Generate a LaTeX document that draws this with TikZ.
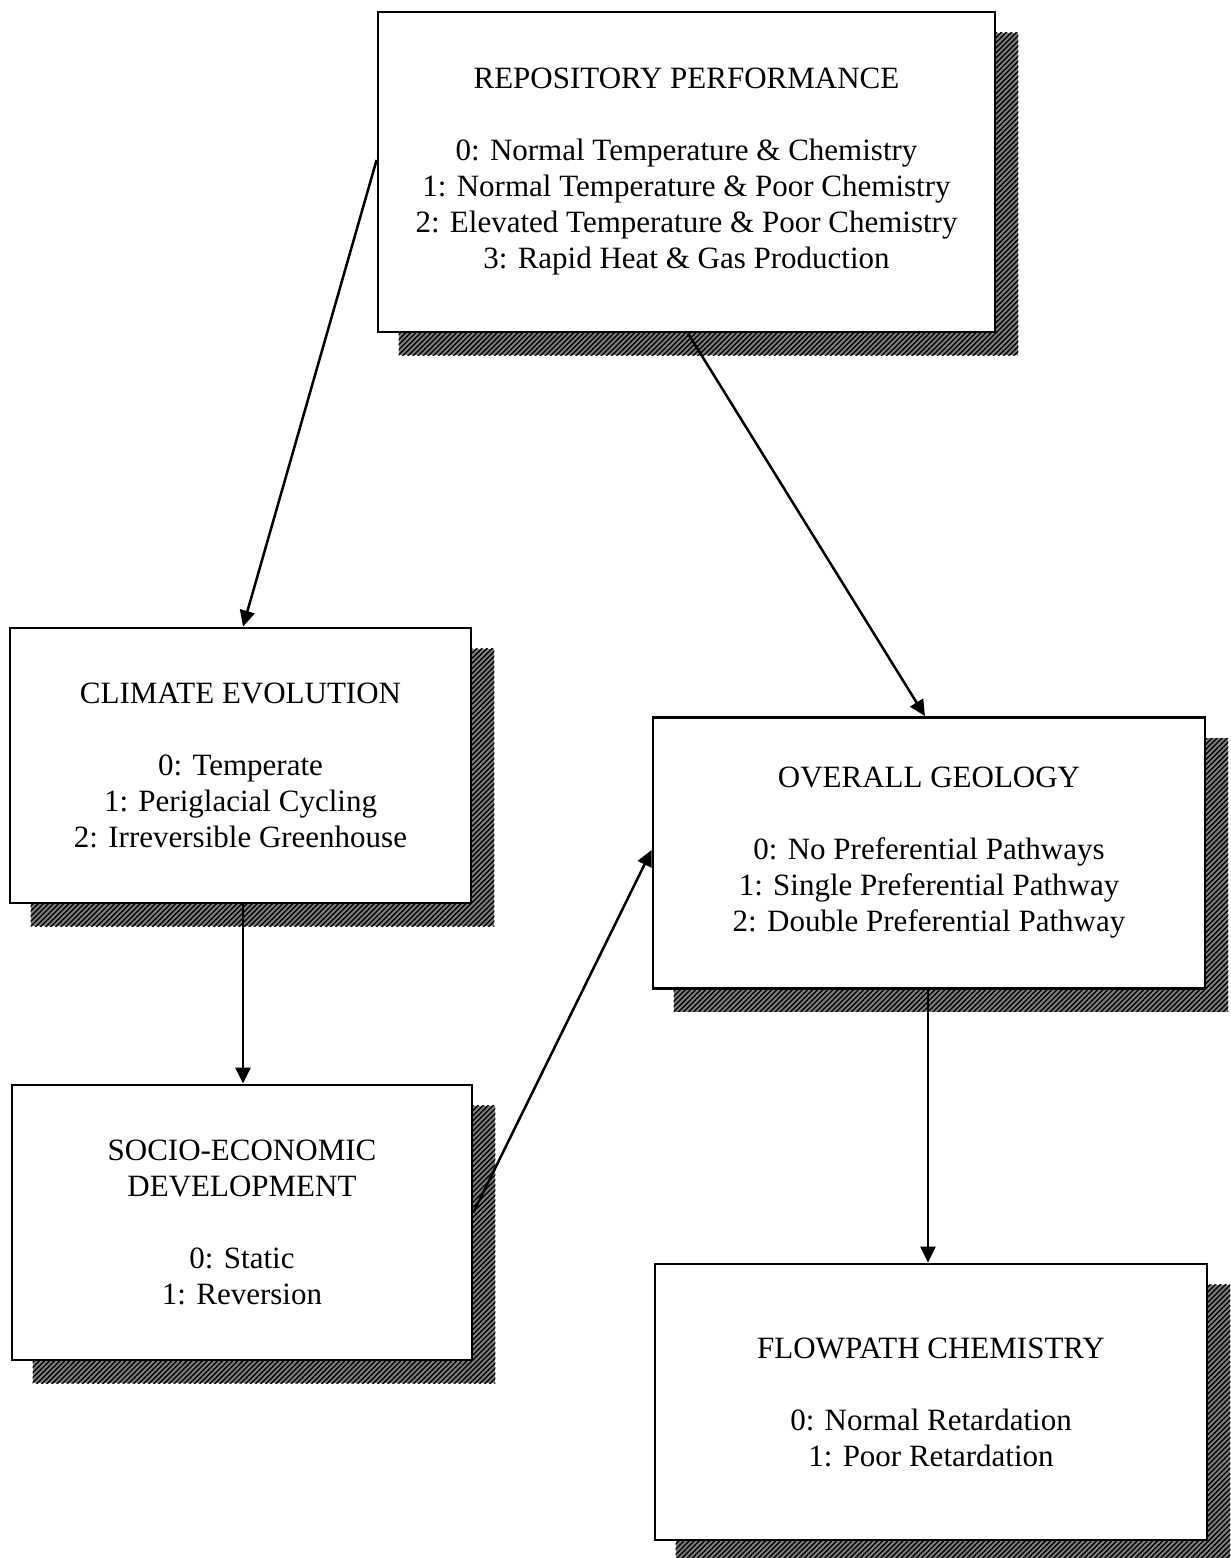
\documentclass[tikz,border=0pt]{standalone}
\usepackage{fontspec}
\setmainfont{Liberation Serif}
\usetikzlibrary{arrows.meta,patterns.meta,backgrounds}
\tikzset{
  box/.style={draw=black, line width=2.8pt, fill=white, inner sep=0pt, align=center,
    font=\fontsize{31}{36}\selectfont},
  shade/.style={fill=black!50},
  hatch/.style={pattern={Lines[angle=45,distance=3.6pt,line width=1.4pt]}, pattern color=black},
  conn/.style={line width=2.5pt, -{Triangle[length=16pt,width=15pt]}},
}
\begin{document}
\begin{tikzpicture}[x=1pt,y=-1pt]
\useasboundingbox (0,0) rectangle (1231,1558);

\node[box, minimum width=617pt, minimum height=320pt] (repo) at (686.5,172)
  {REPOSITORY PERFORMANCE\\[36pt]
   0: Normal Temperature \& Chemistry\\
   1: Normal Temperature \& Poor Chemistry\\
   2: Elevated Temperature \& Poor Chemistry\\
   3: Rapid Heat \& Gas Production};

\node[box, minimum width=461pt, minimum height=275pt] (clim) at (240.5,765.5)
  {CLIMATE EVOLUTION\\[36pt]
   0: Temperate\\
   1: Periglacial Cycling\\
   2: Irreversible Greenhouse};

\node[box, minimum width=552pt, minimum height=271pt] (geo) at (929,853)
  {OVERALL GEOLOGY\\[36pt]
   0: No Preferential Pathways\\
   1: Single Preferential Pathway\\
   2: Double Preferential Pathway};

\node[box, minimum width=460pt, minimum height=275pt] (socio) at (242,1222.5)
  {SOCIO-ECONOMIC\\
   DEVELOPMENT\\[36pt]
   0: Static\\
   1: Reversion};

\node[box, minimum width=552pt, minimum height=276pt] (flow) at (931,1402)
  {FLOWPATH CHEMISTRY\\[36pt]
   0: Normal Retardation\\
   1: Poor Retardation};

\begin{scope}[on background layer]
\foreach \n in {repo,clim,geo,socio,flow}{
  \fill[shade] ([shift={(22,22)}]\n.south west) rectangle ([shift={(22,22)}]\n.north east);
  \fill[hatch] ([shift={(22,22)}]\n.south west) rectangle ([shift={(22,22)}]\n.north east);
}
\end{scope}

\draw[conn] ([yshift=12pt]repo.west) -- ([xshift=2.5pt]clim.north);
\draw[conn] ([xshift=1.5pt]repo.south) -- ([xshift=-4pt]geo.north);
\draw[conn] ([xshift=2.5pt]clim.south) -- ([xshift=2.5pt]clim.south |- socio.north);
\draw[conn] ([yshift=10pt]socio.east) -- ([yshift=3pt]geo.west);
\draw[conn] ([xshift=-1pt]geo.south) -- ([xshift=-1pt]geo.south |- flow.north);
\end{tikzpicture}
\end{document}
